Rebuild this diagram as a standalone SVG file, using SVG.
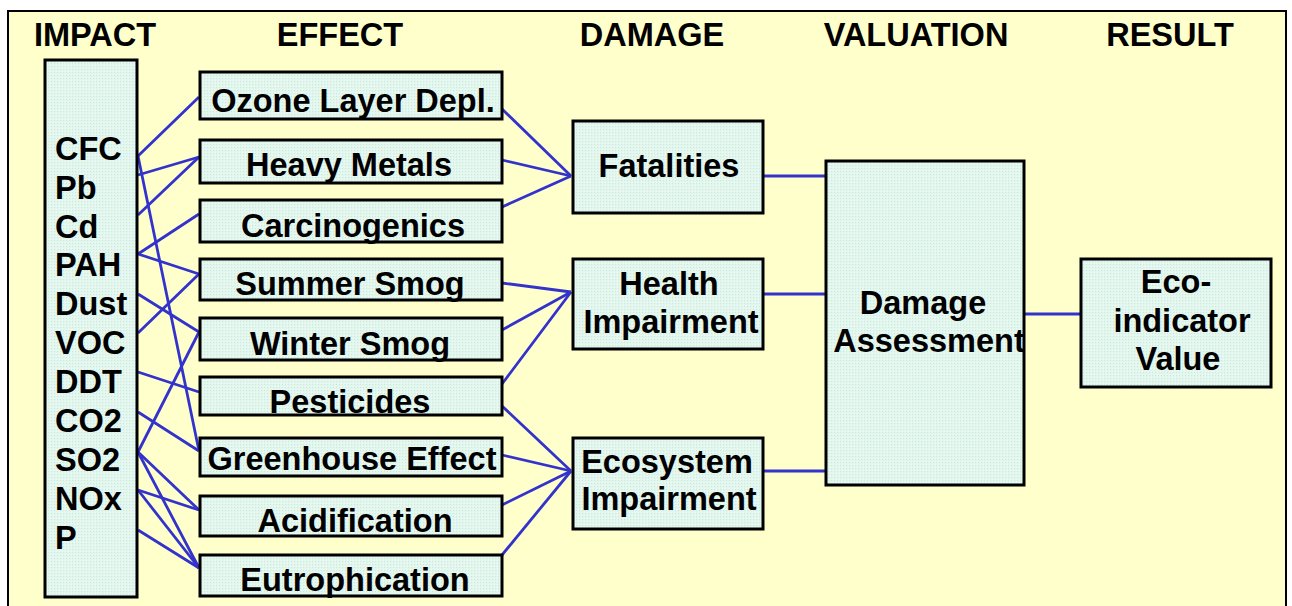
<svg xmlns="http://www.w3.org/2000/svg" width="1292" height="606" viewBox="0 0 1292 606">
<defs>
<pattern id="dots" width="3" height="3" patternUnits="userSpaceOnUse">
<rect width="3" height="3" fill="#E2F6EE"/>
<rect width="1" height="1" fill="#C9EBDF"/>
<rect x="2" y="2" width="1" height="1" fill="#F0FBF6"/>
</pattern>
<style>
.box{fill:url(#dots);stroke:#000;stroke-width:3}
.t{font-family:"Liberation Sans",Arial,sans-serif;font-weight:bold;font-size:32.5px;fill:#000}
.c{text-anchor:middle}
.ln{stroke:#3333CC;stroke-width:2.8;fill:none}
</style>
</defs>
<rect x="0" y="0" width="1292" height="606" fill="#FFFFFF"/>
<rect x="8" y="11" width="1278" height="610" fill="#FFFFCC" stroke="#000" stroke-width="2"/>
<g id="headers" class="t c">
<text x="95" y="46">IMPACT</text>
<text x="340" y="46">EFFECT</text>
<text x="652" y="46">DAMAGE</text>
<text x="916" y="46">VALUATION</text>
<text x="1170" y="46">RESULT</text>
</g>
<g id="connectors" class="ln">
<line x1="138" y1="156" x2="199" y2="97"/>
<line x1="138" y1="156" x2="199" y2="451"/>
<line x1="138" y1="175" x2="199" y2="157"/>
<line x1="138" y1="215" x2="199" y2="157"/>
<line x1="138" y1="254" x2="199" y2="214"/>
<line x1="138" y1="254" x2="199" y2="274"/>
<line x1="138" y1="294" x2="199" y2="332"/>
<line x1="138" y1="333" x2="199" y2="274"/>
<line x1="138" y1="372" x2="199" y2="392"/>
<line x1="138" y1="412" x2="199" y2="451"/>
<line x1="138" y1="452" x2="199" y2="332"/>
<line x1="138" y1="452" x2="199" y2="510"/>
<line x1="138" y1="452" x2="199" y2="568"/>
<line x1="138" y1="490" x2="199" y2="510"/>
<line x1="138" y1="490" x2="199" y2="568"/>
<line x1="138" y1="530" x2="199" y2="568"/>
<line x1="502" y1="109" x2="571" y2="176"/>
<line x1="502" y1="160" x2="571" y2="176"/>
<line x1="502" y1="207" x2="571" y2="176"/>
<line x1="502" y1="283" x2="571" y2="292"/>
<line x1="502" y1="330" x2="571" y2="292"/>
<line x1="502" y1="384" x2="571" y2="292"/>
<line x1="502" y1="406" x2="571" y2="471"/>
<line x1="502" y1="455" x2="571" y2="471"/>
<line x1="502" y1="505" x2="571" y2="471"/>
<line x1="502" y1="555" x2="571" y2="471"/>
<line x1="763" y1="176" x2="826" y2="176"/>
<line x1="763" y1="294" x2="826" y2="294"/>
<line x1="763" y1="471" x2="826" y2="471"/>
<line x1="1024" y1="314" x2="1081" y2="314"/>
</g>
<g id="impact">
<rect class="box" x="45" y="60" width="92" height="537"/>
<g class="t">
<text x="55" y="160">CFC</text>
<text x="55" y="199">Pb</text>
<text x="55" y="238">Cd</text>
<text x="55" y="276">PAH</text>
<text x="55" y="315">Dust</text>
<text x="55" y="354">VOC</text>
<text x="55" y="393">DDT</text>
<text x="55" y="432">CO2</text>
<text x="55" y="471">SO2</text>
<text x="55" y="510">NOx</text>
<text x="55" y="549">P</text>
</g>
</g>
<g id="ozone"><rect class="box" x="200" y="72" width="302" height="47"/><text class="t c" x="353" y="112">Ozone Layer Depl.</text></g>
<g id="heavy-metals"><rect class="box" x="200" y="140" width="302" height="43"/><text class="t c" x="349" y="176">Heavy Metals</text></g>
<g id="carcinogenics"><rect class="box" x="200" y="200" width="302" height="42"/><text class="t c" x="353" y="237">Carcinogenics</text></g>
<g id="summer-smog"><rect class="box" x="200" y="259" width="302" height="41"/><text class="t c" x="350" y="295">Summer Smog</text></g>
<g id="winter-smog"><rect class="box" x="200" y="318" width="302" height="42"/><text class="t c" x="350" y="355">Winter Smog</text></g>
<g id="pesticides"><rect class="box" x="200" y="377" width="302" height="38"/><text class="t c" x="350" y="413">Pesticides</text></g>
<g id="greenhouse"><rect class="box" x="200" y="438" width="302" height="38"/><text class="t c" x="352" y="470">Greenhouse Effect</text></g>
<g id="acidification"><rect class="box" x="200" y="496" width="302" height="40"/><text class="t c" x="355" y="532">Acidification</text></g>
<g id="eutrophication"><rect class="box" x="200" y="555" width="302" height="41"/><text class="t c" x="355" y="591">Eutrophication</text></g>
<g id="fatalities"><rect class="box" x="573" y="121" width="190" height="92"/><text class="t c" x="669" y="177">Fatalities</text></g>
<g id="health"><rect class="box" x="573" y="259" width="190" height="90"/><text class="t c" x="669" y="295">Health</text><text class="t c" x="671" y="333">Impairment</text></g>
<g id="ecosystem"><rect class="box" x="573" y="438" width="190" height="91"/><text class="t c" x="667" y="473">Ecosystem</text><text class="t c" x="669" y="510">Impairment</text></g>
<g id="damage-assessment"><rect class="box" x="826" y="161" width="198" height="324"/><text class="t c" x="923" y="314">Damage</text><text class="t c" x="929" y="352">Assessment</text></g>
<g id="eco-indicator"><rect class="box" x="1081" y="259" width="190" height="128"/><text class="t c" x="1176" y="293">Eco-</text><text class="t c" x="1182" y="332">indicator</text><text class="t c" x="1178" y="370">Value</text></g>
</svg>
